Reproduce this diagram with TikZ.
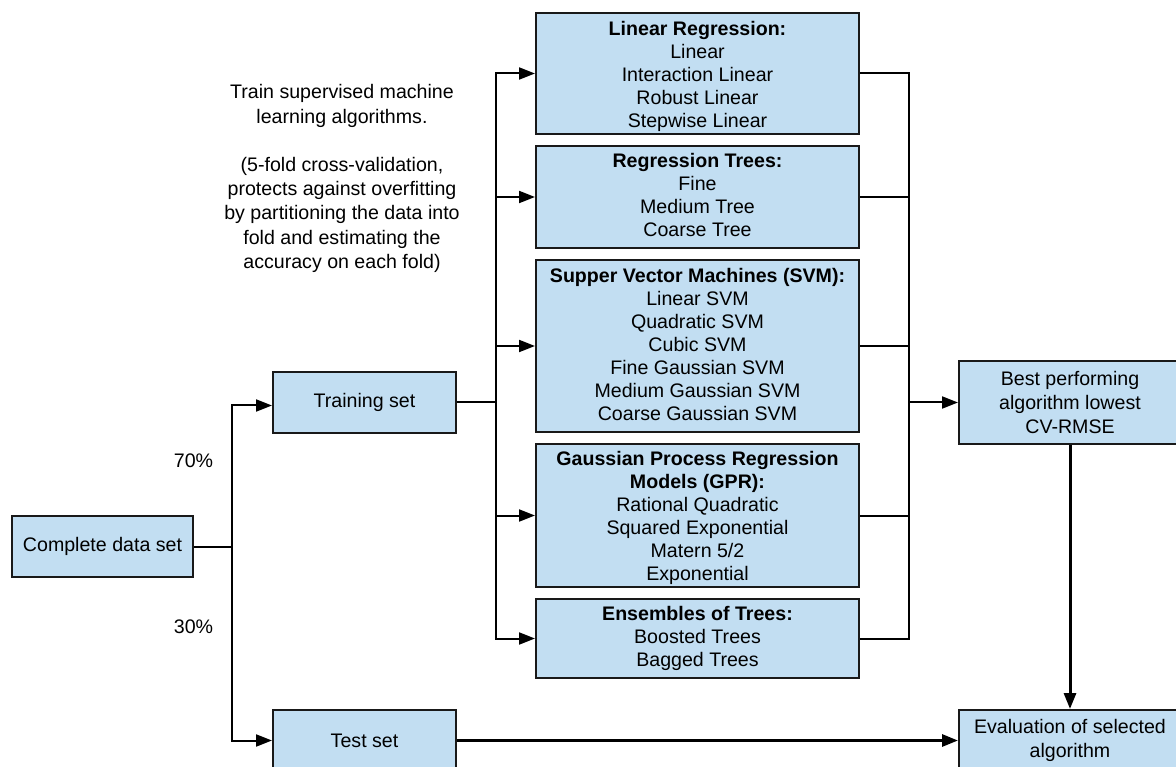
\documentclass[tikz,border=0pt]{standalone}
\usepackage{fontspec}
\setmainfont{Liberation Sans}
\usetikzlibrary{arrows.meta}
\definecolor{boxblue}{RGB}{194,222,242}
\begin{document}
\begin{tikzpicture}[x=1pt,y=-1pt,
  every node/.style={font=\fontsize{19.6}{23}\selectfont, inner sep=0pt},
  box/.style={draw=black!90, line width=2pt, fill=boxblue, align=center},
  boxtext/.style={align=center},
  conn/.style={line width=2pt},
  thickconn/.style={line width=3pt},
  tip/.style={-{Triangle[length=16pt,width=12pt]}}]
\useasboundingbox (0,0) rectangle (1176,767);
\clip (0,0) rectangle (1176,767);

% data split
\node[box, minimum width=181pt, minimum height=61pt] (complete) at (102.5,546.5) {Complete data set};
\node[box, minimum width=183pt, minimum height=61pt] (train) at (364.5,402.5) {Training set};
\node[box, minimum width=183pt, minimum height=61pt] (test) at (364.5,740.5) {Test set};

% algorithm families: boxes, then their lists
\node[box, minimum width=323pt, minimum height=121pt] (lr) at (697.5,73.5) {};
\node[box, minimum width=323pt, minimum height=102pt] (rt) at (697.5,197) {};
\node[box, minimum width=323pt, minimum height=172pt] (svm) at (697.5,346) {};
\node[box, minimum width=323pt, minimum height=143pt] (gpr) at (697.5,515.5) {};
\node[box, minimum width=323pt, minimum height=79pt] (et) at (697.5,638.5) {};

\node[boxtext] (lrtext) at ([yshift=-3pt]lr.center)
  {\textbf{Linear Regression:}\\Linear\\Interaction Linear\\Robust Linear\\Stepwise Linear};
\node[boxtext] (rttext) at ([yshift=2pt]rt.center)
  {\textbf{Regression Trees:}\\Fine\\Medium Tree\\Coarse Tree};
\node[boxtext] (svmtext) at ([yshift=2pt]svm.center)
  {\textbf{Supper Vector Machines (SVM):}\\Linear SVM\\Quadratic SVM\\Cubic SVM\\Fine Gaussian SVM\\Medium Gaussian SVM\\Coarse Gaussian SVM};
\node[boxtext] (gprtext) at ([yshift=-2.5pt]gpr.center)
  {\textbf{Gaussian Process Regression}\\\textbf{Models (GPR):}\\Rational Quadratic\\Squared Exponential\\Matern 5/2\\Exponential};
\node[boxtext] (ettext) at (et.center)
  {\textbf{Ensembles of Trees:}\\Boosted Trees\\Bagged Trees};

% selection and evaluation
\node[box, minimum width=222pt, minimum height=82pt, font=\fontsize{19.6}{24}\selectfont] (best) at (1070,402.5)
  {Best performing\\algorithm lowest\\CV-RMSE};
\node[box, minimum width=222pt, minimum height=61pt, font=\fontsize{19.6}{24}\selectfont] (eval) at (1070,740.5)
  {Evaluation of selected\\algorithm};

% annotations
\node[align=center, font=\fontsize{19.6}{24.2}\selectfont] (note) at (342,178.5)
  {Train supervised machine\\learning algorithms.\\[24.2pt](5-fold cross-validation,\\protects against overfitting\\by partitioning the data into\\fold and estimating the\\accuracy on each fold)};
\node (p70) at (193.5,461) {70\%};
\node (p30) at (193.5,627) {30\%};

% junction points
\coordinate (split) at (232,546.5);
\coordinate (fanout) at (496,402.5);
\coordinate (collect) at (909,402.5);

% split of the data
\draw[conn] (complete.east) -- (split);
\draw[conn,tip] (split) |- ([yshift=-3pt]train.west);
\draw[conn,tip] (split) |- (test.west);

% training set to each family
\draw[conn] (train.east) -- (fanout);
\foreach \n in {lr,rt,svm,gpr,et}
  \draw[conn,tip] (fanout) |- (\n.west);

% families collected into the best model
\foreach \n in {lr,rt,svm,gpr,et}
  \draw[conn] (\n.east) -| (collect);
\draw[conn,tip] (collect) -- (best.west);

% evaluation
\draw[thickconn,tip] (best.south) -- (eval.north);
\draw[thickconn,tip] (test.east) -- (eval.west);
\end{tikzpicture}
\end{document}
